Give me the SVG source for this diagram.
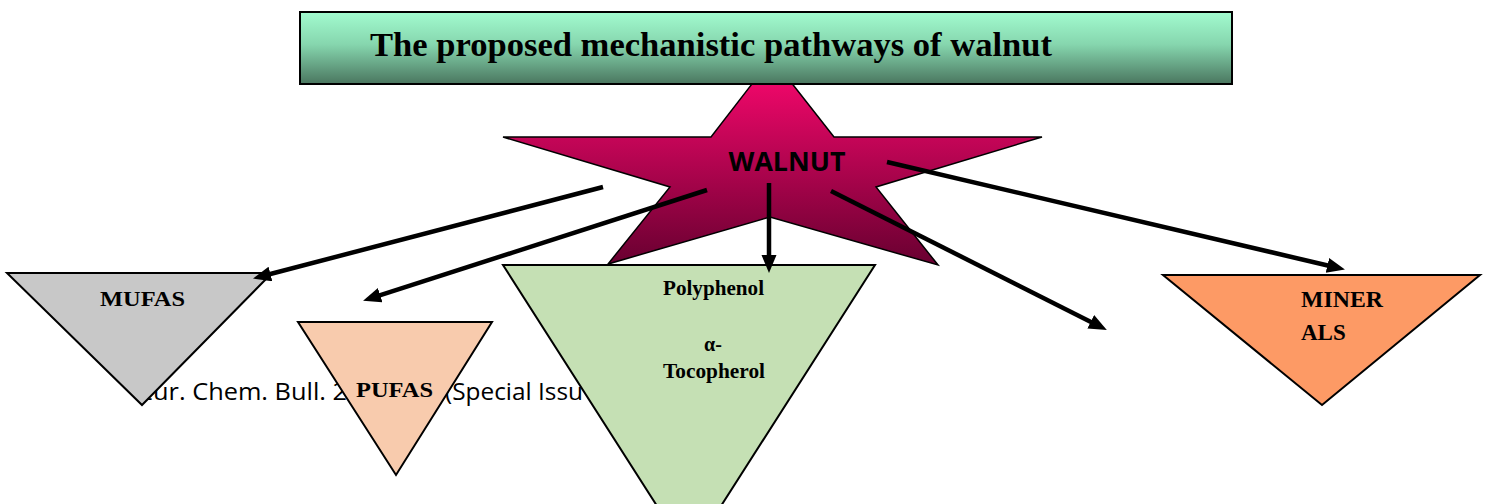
<svg xmlns="http://www.w3.org/2000/svg" width="1491" height="504" viewBox="0 0 1491 504">
<style>
.tri{stroke:#000;stroke-width:2;stroke-linejoin:miter}
.lbl{font-family:"Liberation Serif","Times New Roman",serif;font-weight:bold;fill:#000}
.foot{font-family:"Open Sans","Liberation Sans",sans-serif;font-size:23px;fill:#000}
.arr{stroke:#000;stroke-width:4.5;fill:none;marker-end:url(#ah)}
</style>
<defs>
<linearGradient id="gTitle" x1="0" y1="0" x2="0" y2="1">
<stop offset="0" stop-color="#a2fbcf"/>
<stop offset="0.45" stop-color="#86d6ae"/>
<stop offset="1" stop-color="#4a765f"/>
</linearGradient>
<linearGradient id="gStar" x1="0" y1="0" x2="0" y2="1">
<stop offset="0" stop-color="#ff0870"/>
<stop offset="1" stop-color="#680030"/>
</linearGradient>
<marker id="ah" markerUnits="userSpaceOnUse" markerWidth="19" markerHeight="16" refX="8" refY="7.5" orient="auto" viewBox="0 0 19 16">
<path d="M0,0 L18,7.5 L0,15 z" fill="#000"/>
</marker>
</defs>
<rect width="1491" height="504" fill="#fff"/>
<text class="foot" x="139" y="400" textLength="208" lengthAdjust="spacingAndGlyphs">Eur. Chem. Bull. 2</text>
<text class="foot" x="445" y="400" textLength="138" lengthAdjust="spacingAndGlyphs">(Special Issu</text>
<g id="walnut">
<polygon points="772,58 834,137 1042,137 876,187 938,265 770,217 608,264 670,187 503,137 711,137" fill="url(#gStar)" stroke="#000" stroke-width="1.5"/>
<text x="787" y="171" text-anchor="middle" font-family="'Open Sans','Liberation Sans',sans-serif" font-weight="bold" font-size="26" textLength="117" lengthAdjust="spacingAndGlyphs">WALNUT</text>
</g>
<g id="title">
<rect x="300" y="12" width="932" height="72" fill="url(#gTitle)" stroke="#000" stroke-width="2"/>
<text class="lbl" x="370" y="56" font-size="33" textLength="682" lengthAdjust="spacingAndGlyphs">The proposed mechanistic pathways of walnut</text>
</g>
<g id="mufas">
<polygon class="tri" points="7,273 272,273 142,405" fill="#c8c8c8"/>
<text class="lbl" x="100" y="306" font-size="22" textLength="85" lengthAdjust="spacingAndGlyphs">MUFAS</text>
</g>
<g id="pufas">
<polygon class="tri" points="298,322 492,322 396,475" fill="#f8cbad"/>
<text class="lbl" x="356" y="397" font-size="22" textLength="77" lengthAdjust="spacingAndGlyphs">PUFAS</text>
</g>
<g id="polyphenol">
<polygon class="tri" points="503,265 875,265 689,556" fill="#c5e0b4"/>
<text class="lbl" x="663" y="295" font-size="20" textLength="101" lengthAdjust="spacingAndGlyphs">Polyphenol</text>
<text class="lbl" x="713" y="351" font-size="20" text-anchor="middle">α-</text>
<text class="lbl" x="663" y="378" font-size="20" textLength="102" lengthAdjust="spacingAndGlyphs">Tocopherol</text>
</g>
<g id="minerals">
<polygon class="tri" points="1163,275 1480,275 1322,405" fill="#fd9a65"/>
<text class="lbl" x="1301" y="307" font-size="23" textLength="82" lengthAdjust="spacingAndGlyphs">MINER</text>
<text class="lbl" x="1301" y="340" font-size="23">ALS</text>
</g>
<g id="connectors">
<line class="arr" x1="603" y1="187" x2="262.7" y2="276"/>
<line class="arr" x1="707" y1="190" x2="372.6" y2="297.6"/>
<line class="arr" x1="769" y1="183" x2="769" y2="263"/>
<line class="arr" x1="831" y1="191" x2="1097.9" y2="325.4"/>
<line class="arr" x1="887" y1="162" x2="1335.2" y2="267.2"/>
</g>
</svg>
